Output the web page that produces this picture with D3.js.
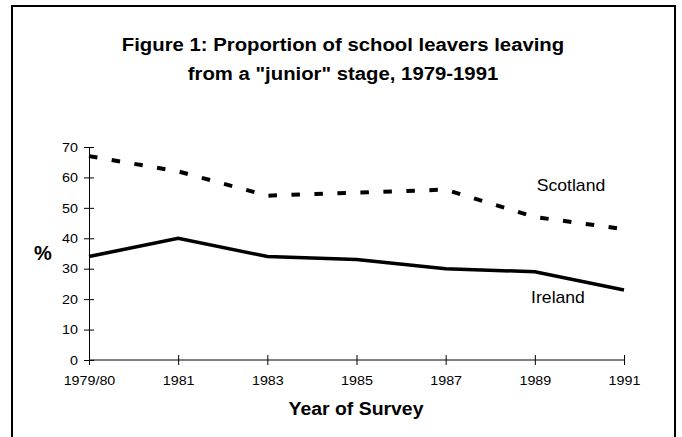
<!DOCTYPE html>
<html>
<head>
<meta charset="utf-8">
<script src="https://cdn.jsdelivr.net/npm/d3@7"></script>
<style>
  html, body { margin: 0; padding: 0; background: #fff; }
  svg { display: block; font-family: "Liberation Sans", Arial, sans-serif; }
</style>
</head>
<body>
<svg id="chart" width="682" height="437"></svg>
<script>
const categories = ["1979/80", "1981", "1983", "1985", "1987", "1989", "1991"];
const scotland = [67, 62, 54, 55, 56, 47, 43];
const ireland = [34, 40, 34, 33, 30, 29, 23];
const yTicks = [0, 10, 20, 30, 40, 50, 60, 70];
const titleLines = ["Figure 1: Proportion of school leavers leaving", "from a \"junior\" stage, 1979-1991"];

const svg = d3.select("#chart");

svg.append("rect")
  .attr("x", 12).attr("y", 6)
  .attr("width", 663).attr("height", 450)
  .attr("fill", "none").attr("stroke", "#000").attr("stroke-width", 2);

const x = d3.scalePoint().domain(categories).range([89, 624]);
const y = d3.scaleLinear().domain([0, 70]).range([360, 147]);

// Title
svg.append("g").selectAll("text").data(titleLines).join("text")
  .attr("x", 343).attr("y", (d, i) => 51 + i * 29)
  .attr("text-anchor", "middle")
  .attr("font-size", 19).attr("font-weight", "bold")
  .attr("transform", "translate(343,0) scale(1.07,1) translate(-343,0)")
  .text(d => d);

// Y axis
const gy = svg.append("g").attr("transform", `translate(${x.range()[0]},0)`)
  .call(d3.axisLeft(y).tickValues(yTicks).tickSize(5).tickPadding(5));
gy.select(".domain").attr("stroke", "#000");
gy.selectAll(".tick line").attr("x1", 5).attr("stroke", "#000");
gy.selectAll(".tick text").attr("font-size", 13).attr("fill", "#000")
  .attr("font-family", "Liberation Sans, Arial, sans-serif")
  .attr("transform", "scale(1.1,1)");

// X axis
const gx = svg.append("g").attr("transform", `translate(0,${y(0)})`)
  .call(d3.axisBottom(x).tickSize(5).tickPadding(11));
gx.select(".domain").attr("stroke", "#000").attr("d", `M${x.range()[0]},0H${x.range()[1]}`);
gx.selectAll(".tick line").attr("y1", -5).attr("stroke", "#000");
gx.selectAll(".tick text").attr("font-size", 13).attr("fill", "#000")
  .attr("font-family", "Liberation Sans, Arial, sans-serif")
  .attr("transform", "scale(1.1,1)");

// Axis titles
svg.append("text").attr("x", 43).attr("y", 260)
  .attr("text-anchor", "middle").attr("font-size", 20).attr("font-weight", "bold")
  .text("%");
svg.append("text").attr("x", 356).attr("y", 415)
  .attr("text-anchor", "middle").attr("font-size", 18.5).attr("font-weight", "bold")
  .attr("transform", "translate(356,0) scale(1.05,1) translate(-356,0)")
  .text("Year of Survey");

// Lines
const line = d3.line().x((d, i) => x(categories[i])).y(d => y(d));
svg.append("path").datum(scotland)
  .attr("d", line).attr("fill", "none").attr("stroke", "#000")
  .attr("stroke-width", 4).attr("stroke-dasharray", "8.5,14.5");
svg.append("path").datum(ireland)
  .attr("d", line).attr("fill", "none").attr("stroke", "#000")
  .attr("stroke-width", 3.5).attr("stroke-linejoin", "miter");

// Series labels
svg.append("text").attr("x", 571).attr("y", 191)
  .attr("text-anchor", "middle").attr("font-size", 16)
  .attr("transform", "translate(571,0) scale(1.1,1) translate(-571,0)")
  .text("Scotland");
svg.append("text").attr("x", 558).attr("y", 303)
  .attr("text-anchor", "middle").attr("font-size", 16)
  .attr("transform", "translate(558,0) scale(1.1,1) translate(-558,0)")
  .text("Ireland");
</script>
</body>
</html>
